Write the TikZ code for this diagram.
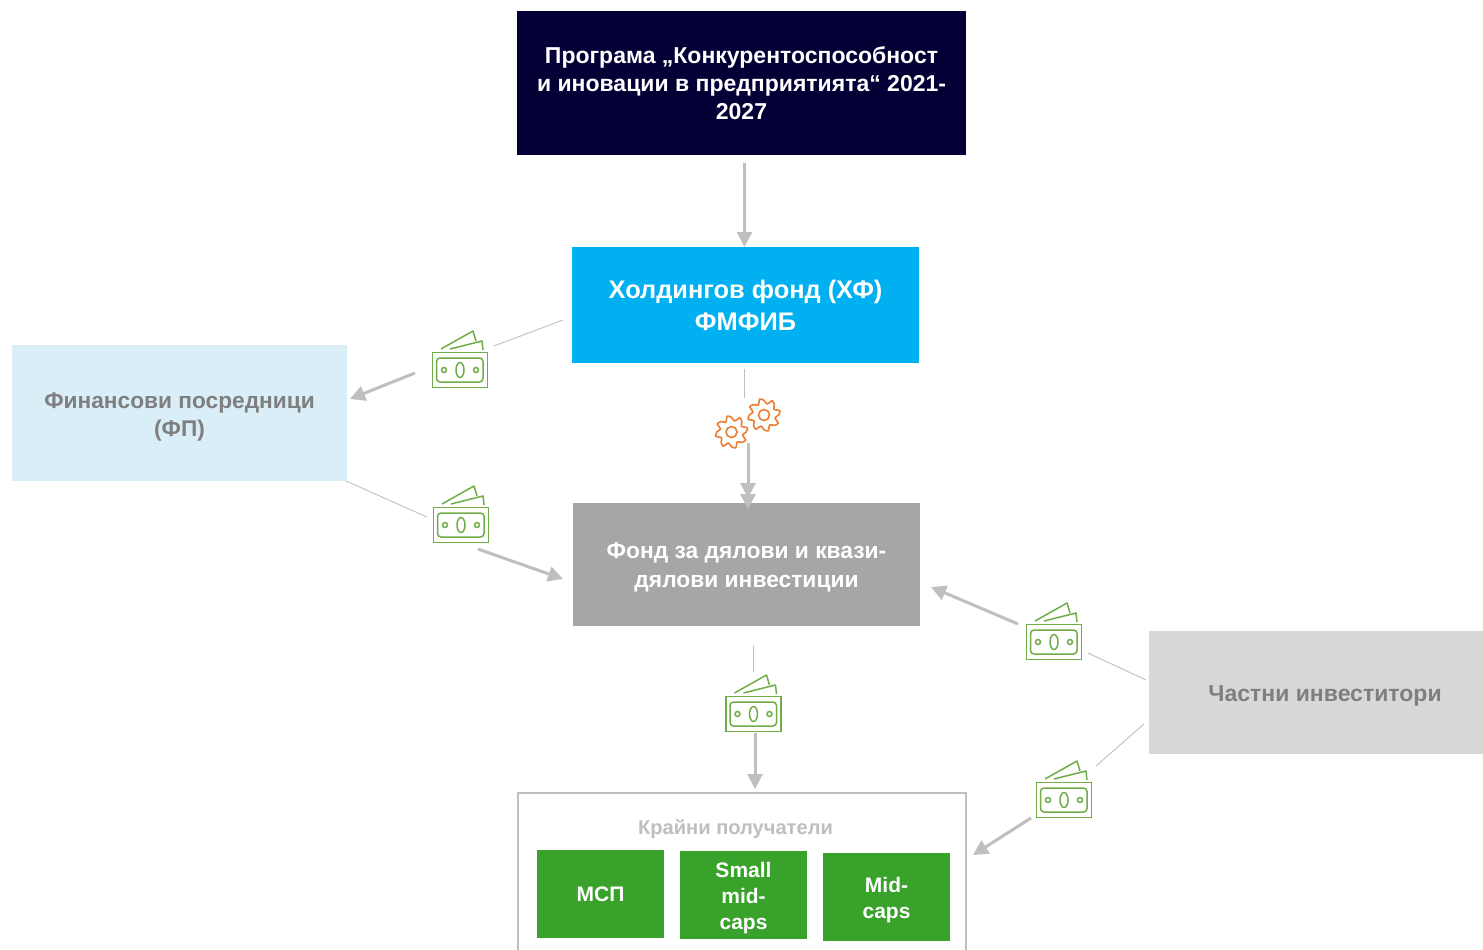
\documentclass[tikz,border=0pt]{standalone}
\usepackage{fontspec}
\setmainfont{Liberation Sans}
\usetikzlibrary{arrows.meta,calc}
\definecolor{navy}{HTML}{040035}
\definecolor{hfblue}{HTML}{00B0F0}
\definecolor{fpblue}{HTML}{DAEEF8}
\definecolor{fundgray}{HTML}{A6A6A6}
\definecolor{privgray}{HTML}{D8D8D8}
\definecolor{txtgray}{HTML}{7F7F7F}
\definecolor{linegray}{HTML}{BFBFBF}
\definecolor{lgreen}{HTML}{38A22A}
\definecolor{igreen}{HTML}{70AD47}
\definecolor{gearor}{HTML}{ED7D31}
\newcommand\dnl[2]{\raisebox{-#1}[\height][\depth]{#2}}
\tikzset{
  x=1pt,y=-1pt,
  boxn/.style={anchor=center,inner sep=0pt,outer sep=0pt,align=center,font=\bfseries},
  thinl/.style={draw=linegray,line width=0.9pt},
  arr/.style={draw=linegray,line width=3pt,-{Triangle[length=15pt,width=15pt]},shorten >=0pt},
  money/.pic={
    \draw[igreen,line width=1.5pt] (-27.5,-17.5) rectangle (27.5,17.5);
    \draw[igreen,line width=1.5pt,rounded corners=3.5pt] (-23.5,-12) rectangle (23,12);
    \draw[igreen,line width=1.5pt] (0,0) ellipse [x radius=4,y radius=7.5];
    \draw[igreen,line width=1.5pt] (-16,0) circle (2.5) (16,0) circle (2.5);
    \draw[igreen,line width=1.5pt,line join=round] (-19,-21) -- (13,-39) -- (16,-29);
    \draw[igreen,line width=1.5pt,line join=round] (-10,-21) -- (22,-29) -- (23,-20);
  },
  gear/.pic={
    \draw[gearor,line width=1.6pt,line join=round]
      plot[smooth cycle,tension=0.35,samples at={0,15,...,345},variable=\a]
      ({(14.2+3*cos(8*(\a+10)))*cos(\a)},{(14.2+3*cos(8*(\a+10)))*sin(\a)});
    \draw[gearor,line width=1.6pt] (0,0) circle (5.5);
  }
}
\begin{document}
\begin{tikzpicture}
\useasboundingbox (0,0) rectangle (1483,950);
\fill[white] (0,0) rectangle (1483,950);
% boxes
\node[boxn,fill=navy,text=white,minimum width=449pt,minimum height=144pt,font=\bfseries\fontsize{23}{28}\selectfont] (prog) at (741.5,83) {Програма „Конкурентоспособност\\и иновации в предприятията“ 2021-\\2027};
\node[boxn,fill=hfblue,text=white,minimum width=347pt,minimum height=116pt,font=\bfseries\fontsize{25.4}{32}\selectfont] (hf) at (745.5,305) {Холдингов фонд (ХФ)\\ФМФИБ};
\node[boxn,fill=fpblue,text=txtgray,minimum width=335pt,minimum height=136pt,font=\bfseries\fontsize{22.7}{28}\selectfont] (fp) at (179.5,413) {\dnl{4pt}{Финансови посредници}\\\dnl{4pt}{(ФП)}};
\node[boxn,fill=fundgray,text=white,minimum width=347pt,minimum height=123pt,font=\bfseries\fontsize{22.8}{29}\selectfont] (fund) at (746.5,564.5) {\dnl{3pt}{Фонд за дялови и квази-}\\\dnl{3pt}{дялови инвестиции}};
\node[boxn,fill=privgray,text=txtgray,minimum width=334pt,minimum height=123pt,font=\bfseries\fontsize{23}{28}\selectfont] (priv) at (1316,692.5) {\hspace*{18pt}\dnl{3pt}{Частни инвеститори}};
% final recipients (open at the bottom)
\draw[linegray,line width=1.8pt] (518,951) -- (518,793) -- (966,793) -- (966,951);
\node[boxn,text=linegray,font=\bfseries\fontsize{20.1}{24}\selectfont] (final) at (735.5,829) {Крайни получатели};
\node[boxn,fill=lgreen,text=white,minimum width=127pt,minimum height=88pt,font=\bfseries\fontsize{21}{26}\selectfont] (msp) at (600.5,894) {МСП};
\node[boxn,fill=lgreen,text=white,minimum width=127pt,minimum height=88pt,font=\bfseries\fontsize{21}{26}\selectfont] (small) at (743.5,895) {\dnl{3pt}{Small}\\\dnl{3pt}{mid-}\\\dnl{3pt}{caps}};
\node[boxn,fill=lgreen,text=white,minimum width=127pt,minimum height=88pt,font=\bfseries\fontsize{21}{26}\selectfont] (mid) at (886.5,897) {\dnl{3pt}{Mid-}\\\dnl{3pt}{caps}};
% icons
\pic at (460,370) {money};
\pic at (461,525) {money};
\pic at (1054,642) {money};
\pic at (753.5,714) {money};
\pic at (1064,800) {money};
\pic at (731.5,432) {gear};
\pic at (764,415) {gear};
% connector ends
\coordinate (a1) at (744.5,163);
\coordinate (a2) at (744.5,247);
\coordinate (b1) at (563,320);
\coordinate (b2) at (494,346);
\coordinate (b3) at (415,373);
\coordinate (b4) at (350,399);
\coordinate (c1) at (346,481);
\coordinate (c2) at (427,517);
\coordinate (c3) at (478,549);
\coordinate (c4) at (563,579);
\coordinate (d1) at (744.5,369);
\coordinate (d2) at (744.5,398);
\coordinate (d3) at (748,443);
\coordinate (d4) at (748,498);
\coordinate (d5) at (748,509);
\coordinate (e1) at (1146,680);
\coordinate (e2) at (1088,653);
\coordinate (e3) at (1018,624);
\coordinate (e4) at (931,587);
\coordinate (f1) at (753.5,646);
\coordinate (f2) at (753.5,672);
\coordinate (f3) at (755,733);
\coordinate (f4) at (755,789);
\coordinate (g1) at (1144,724);
\coordinate (g2) at (1096,766);
\coordinate (g3) at (1031,818);
\coordinate (g4) at (973,855);
% connectors
\draw[arr] (a1) -- (a2);
\draw[thinl] (b1) -- (b2);
\draw[arr] (b3) -- (b4);
\draw[thinl] (c1) -- (c2);
\draw[arr] (c3) -- (c4);
\draw[thinl] (d1) -- (d2);
\draw[arr] (d3) -- (d4);
\draw[arr] (d3) -- (d5);
\draw[thinl] (e1) -- (e2);
\draw[arr] (e3) -- (e4);
\draw[thinl] (f1) -- (f2);
\draw[arr] (f3) -- (f4);
\draw[thinl] (g1) -- (g2);
\draw[arr] (g3) -- (g4);
\end{tikzpicture}
\end{document}
